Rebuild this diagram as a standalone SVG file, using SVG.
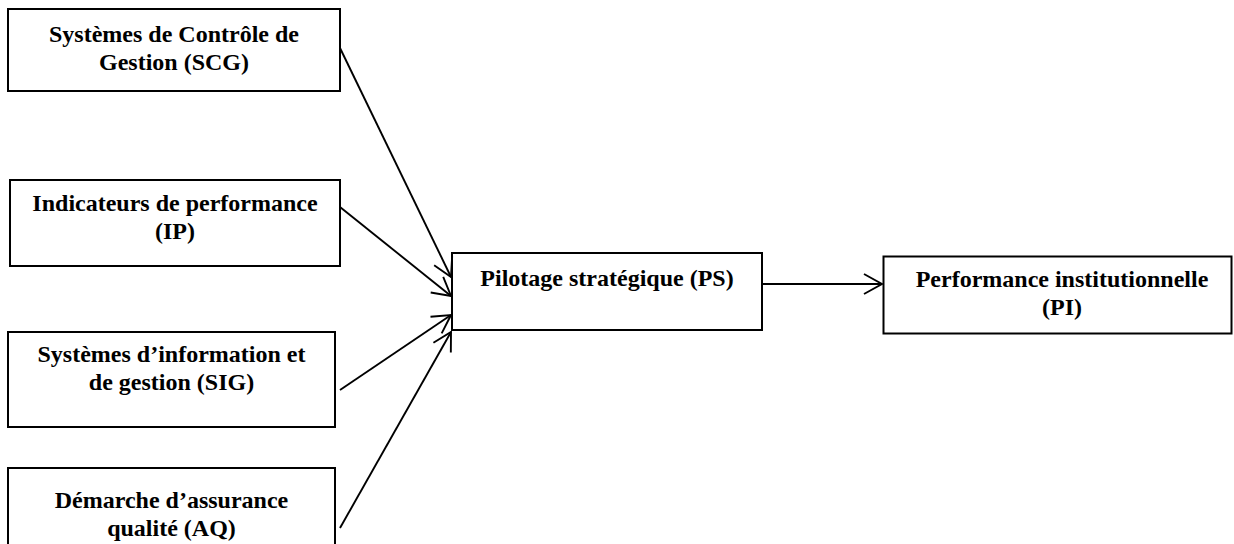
<svg xmlns="http://www.w3.org/2000/svg" width="1234" height="544" viewBox="0 0 1234 544">
<style>
.box{fill:#fff;stroke:#000;stroke-width:2}
.t{font-family:"Liberation Serif","Times New Roman",serif;font-weight:bold;font-size:24px;fill:#000;text-anchor:middle}
.c{stroke:#000;stroke-width:1.9;fill:none;marker-end:url(#ah)}
</style>
<defs>
<marker id="ah" markerUnits="userSpaceOnUse" markerWidth="24" markerHeight="24" viewBox="-20 -12 22 24" refX="0" refY="0" orient="auto">
<path d="M-18,-10 L0,0 L-18,10" fill="none" stroke="#000" stroke-width="1.9"/>
</marker>
</defs>
<rect width="1234" height="544" fill="#fff"/>
<g id="n-scg"><rect class="box" x="8" y="9" width="332" height="82"/>
<text class="t" x="174" y="42">Systèmes de Contrôle de</text>
<text class="t" x="174" y="70">Gestion (SCG)</text></g>
<g id="n-ip"><rect class="box" x="10" y="180" width="330" height="86"/>
<text class="t" x="175" y="211">Indicateurs de performance</text>
<text class="t" x="175" y="239">(IP)</text></g>
<g id="n-sig"><rect class="box" x="8" y="332" width="327" height="95"/>
<text class="t" x="171.5" y="362">Systèmes d’information et</text>
<text class="t" x="171.5" y="390">de gestion (SIG)</text></g>
<g id="n-aq"><rect class="box" x="8" y="468" width="327" height="90"/>
<text class="t" x="171.5" y="508">Démarche d’assurance</text>
<text class="t" x="171.5" y="536">qualité (AQ)</text></g>
<g id="n-ps"><rect class="box" x="452" y="253" width="310" height="77"/>
<text class="t" x="607" y="286">Pilotage stratégique (PS)</text></g>
<g id="n-pi"><rect class="box" x="883.5" y="256.5" width="348" height="77"/>
<text class="t" x="1062" y="287">Performance institutionnelle</text>
<text class="t" x="1062" y="315">(PI)</text></g>
<g id="connectors">
<line class="c" x1="340" y1="48" x2="451" y2="277"/>
<line class="c" x1="340" y1="207" x2="451" y2="296"/>
<line class="c" x1="340" y1="390" x2="451" y2="315"/>
<line class="c" x1="340" y1="528" x2="451" y2="332"/>
<line class="c" x1="762" y1="284" x2="882" y2="284"/>
</g>
</svg>
